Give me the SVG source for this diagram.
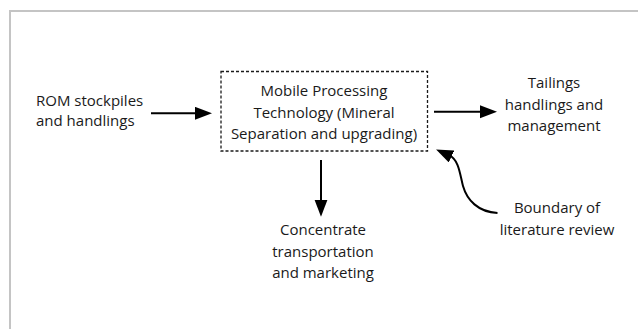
<svg xmlns="http://www.w3.org/2000/svg" width="638" height="329" viewBox="0 0 638 329">
<style>
text{font-family:"Open Sans","Noto Sans","DejaVu Sans",sans-serif;font-size:15px;fill:#1a1a1a}
.c{text-anchor:middle}
.frame{fill:none;stroke:#c4c4c4;stroke-width:2}
.box{fill:#fff;stroke:#1a1a1a;stroke-width:1.3;stroke-dasharray:3 2}
.arr{fill:none;stroke:#000;stroke-width:2;marker-end:url(#ah)}
</style>
<defs>
<marker id="ah" markerUnits="userSpaceOnUse" markerWidth="18" markerHeight="14" refX="2" refY="6.5" orient="auto">
<path d="M0,0 L17,6.5 L0,13 Z" fill="#000"/>
</marker>
</defs>
<rect width="638" height="329" fill="#fff"/>
<path class="frame" d="M10,329 V11 H638"/>
<g id="connectors">
<line class="arr" x1="151" y1="113.3" x2="197" y2="113.3"/>
<line class="arr" x1="434" y1="111.7" x2="482" y2="111.7"/>
<line class="arr" x1="321" y1="160" x2="321" y2="201.7"/>
<path class="arr" d="M497.5,213 C478,212 467,200 463,186 C460,175 459,160 449.7,155.7"/>
</g>
<g id="rom">
<text x="36" y="106">ROM stockpiles</text>
<text x="36" y="126">and handlings</text>
</g>
<g id="mpt">
<rect class="box" x="221" y="71.5" width="206.5" height="79.5"/>
<text class="c" x="324" y="96">Mobile Processing</text>
<text class="c" x="324" y="117.5">Technology (Mineral</text>
<text class="c" x="324" y="139">Separation and upgrading)</text>
</g>
<g id="tailings">
<text class="c" x="554" y="88">Tailings</text>
<text class="c" x="554" y="110">handlings and</text>
<text class="c" x="554" y="131">management</text>
</g>
<g id="concentrate">
<text class="c" x="323" y="235">Concentrate</text>
<text class="c" x="323" y="257">transportation</text>
<text class="c" x="323" y="278">and marketing</text>
</g>
<g id="boundary">
<text class="c" x="557" y="213">Boundary of</text>
<text class="c" x="557" y="235">literature review</text>
</g>
</svg>
